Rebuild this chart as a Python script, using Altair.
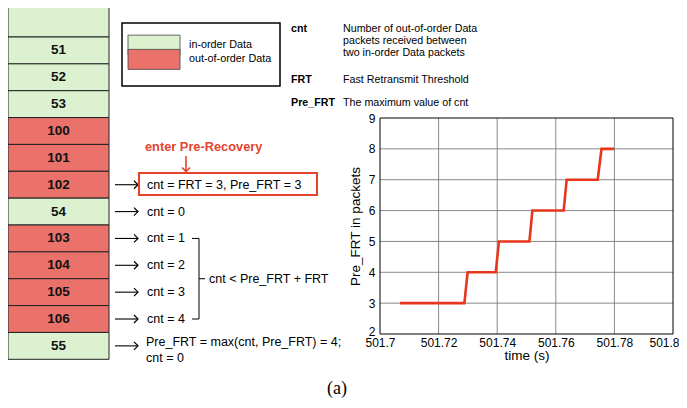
import altair as alt
import pandas as pd

# ---------------- data ----------------
packet_labels = ["", "51", "52", "53", "100", "101", "102", "54", "103", "104", "105", "106", "55"]
packet_types = ["in-order Data", "in-order Data", "in-order Data", "in-order Data",
                "out-of-order Data", "out-of-order Data", "out-of-order Data", "in-order Data",
                "out-of-order Data", "out-of-order Data", "out-of-order Data", "out-of-order Data",
                "in-order Data"]
legend_types = ["in-order Data", "out-of-order Data"]
legend_colors = ["#dbf1d0", "#ea726b"]

annot_packets = ["102", "54", "103", "104", "105", "106", "55"]
annot_texts = ["cnt = FRT = 3, Pre_FRT = 3", "cnt = 0", "cnt = 1", "cnt = 2", "cnt = 3", "cnt = 4",
               "Pre_FRT = max(cnt, Pre_FRT) = 4;\ncnt = 0"]
bracket_from, bracket_to = "103", "106"
bracket_text = "cnt < Pre_FRT + FRT"
recovery_text = "enter Pre-Recovery"

terms = ["cnt", "FRT", "Pre_FRT"]
term_desc = ["Number of out-of-order Data\npackets received between\ntwo in-order Data packets",
             "Fast Retransmit Threshold",
             "The maximum value of cnt"]

time_s = [501.7068, 501.7288, 501.7299, 501.7395, 501.7406, 501.7510, 501.7520,
          501.7627, 501.7637, 501.7743, 501.7756, 501.7799]
pre_frt = [3, 3, 4, 4, 5, 5, 6, 6, 7, 7, 8, 8]
x_ticks = [501.7, 501.72, 501.74, 501.76, 501.78, 501.8]
y_ticks = [2, 3, 4, 5, 6, 7, 8, 9]
caption = "(a)"

# ---------------- layout ----------------
W, H = 671, 392
FONT = "Liberation Sans"
RED = "#e5432c"
row_scale = alt.Scale(domain=[-0.5, 12.5], range=[2.14, 351.3], nice=False, zero=False)
xs = alt.Scale(domain=[x_ticks[0], x_ticks[-1]], range=[372, 665], nice=False, zero=False)
ys = alt.Scale(domain=[y_ticks[0], y_ticks[-1]], range=[326, 110], nice=False, zero=False)
fill_scale = alt.Scale(domain=legend_types, range=legend_colors)

packets = pd.DataFrame({"idx": list(range(len(packet_labels))), "label": packet_labels, "type": packet_types})
packets["top"] = packets["idx"] - 0.5
packets.loc[0, "top"] = -2.0
packets["bot"] = packets["idx"] + 0.5

idx_of = {lab: i for i, lab in enumerate(packet_labels) if lab}
annots = pd.DataFrame({"idx": [idx_of[p] for p in annot_packets], "text": annot_texts})
annots["multi"] = annots["text"].str.contains("\n")

layers = []

# packet column
layers.append(alt.Chart(packets).mark_rect(stroke="#222", strokeWidth=1).encode(
    x=alt.value(0), x2=alt.value(101),
    y=alt.Y("top:Q", scale=row_scale, axis=None), y2="bot:Q",
    fill=alt.Fill("type:N", scale=fill_scale, legend=None)))
layers.append(alt.Chart(packets).mark_text(font=FONT, fontSize=13.5, fontWeight="bold", color="#111").encode(
    x=alt.value(50.5), y=alt.Y("idx:Q", scale=row_scale, axis=None), text="label:N"))

# arrows to annotations
layers.append(alt.Chart(annots).mark_rule(color="black", strokeWidth=1.1).encode(
    x=alt.value(107), x2=alt.value(130), y=alt.Y("idx:Q", scale=row_scale, axis=None)))
layers.append(alt.Chart(annots).mark_point(shape="M-1,-1L0,0L-1,1", size=64, filled=False,
                                           color="black", strokeWidth=1.2, opacity=1).encode(
    x=alt.value(130), y=alt.Y("idx:Q", scale=row_scale, axis=None)))
layers.append(alt.Chart(annots[~annots["multi"]]).mark_text(
    font=FONT, fontSize=12.5, align="left", baseline="middle", color="black").encode(
    x=alt.value(139), y=alt.Y("idx:Q", scale=row_scale, axis=None), text="text:N"))
layers.append(alt.Chart(annots[annots["multi"]]).mark_text(
    font=FONT, fontSize=12.5, align="left", baseline="middle", lineBreak="\n", lineHeight=16,
    dy=-4, color="black").encode(
    x=alt.value(138), y=alt.Y("idx:Q", scale=row_scale, axis=None), text="text:N"))

# red box + recovery arrow + label
rec = pd.DataFrame({"text": [recovery_text]})
layers.append(alt.Chart(rec).mark_rect(filled=False, stroke=RED, strokeWidth=2).encode(
    x=alt.value(131), x2=alt.value(309), y=alt.value(165), y2=alt.value(187)))
layers.append(alt.Chart(rec).mark_text(font=FONT, fontSize=12.8, fontWeight="bold", color=RED,
                                       align="left", baseline="middle").encode(
    x=alt.value(137), y=alt.value(139), text="text:N"))
layers.append(alt.Chart(rec).mark_rule(color=RED, strokeWidth=1.6).encode(
    x=alt.value(178), y=alt.value(148), y2=alt.value(163)))
layers.append(alt.Chart(rec).mark_point(shape="M-1,-1L0,0L1,-1", size=64, filled=False,
                                        color=RED, strokeWidth=1.6, opacity=1).encode(
    x=alt.value(178), y=alt.value(163.5)))

# bracket
br = pd.DataFrame({"a": [idx_of[bracket_from]], "b": [idx_of[bracket_to]], "text": [bracket_text]})
br["m"] = (br["a"] + br["b"]) / 2
layers.append(alt.Chart(br).mark_rule(color="black", strokeWidth=1).encode(
    x=alt.value(191), y=alt.Y("a:Q", scale=row_scale, axis=None), y2="b:Q"))
for fld, x1, x2 in [("a", 184, 191), ("b", 184, 191), ("m", 191, 197)]:
    layers.append(alt.Chart(br).mark_rule(color="black", strokeWidth=1).encode(
        x=alt.value(x1), x2=alt.value(x2), y=alt.Y(f"{fld}:Q", scale=row_scale, axis=None)))
layers.append(alt.Chart(br).mark_text(font=FONT, fontSize=12.5, align="left", baseline="middle").encode(
    x=alt.value(201), y=alt.Y("m:Q", scale=row_scale, axis=None), text="text:N"))

# legend
leg = pd.DataFrame({"type": legend_types})
leg_y = alt.Scale(domain=legend_types, range=[30, 58.5])
layers.append(alt.Chart(leg.head(1)).mark_rect(filled=False, stroke="black", strokeWidth=1.5).encode(
    x=alt.value(114), x2=alt.value(272), y=alt.value(15), y2=alt.value(78)))
layers.append(alt.Chart(leg).mark_point(shape="M-2.6,-1H2.6V1H-2.6Z", size=400, filled=True,
                                        stroke="#444", strokeWidth=0.8, opacity=1).encode(
    x=alt.value(146), y=alt.Y("type:N", scale=leg_y, axis=None),
    fill=alt.Fill("type:N", scale=fill_scale, legend=None)))
layers.append(alt.Chart(leg).mark_text(font=FONT, fontSize=10.8, align="left", baseline="middle").encode(
    x=alt.value(181), y=alt.Y("type:N", scale=leg_y, axis=None), text="type:N"))

# definitions
term_y = [21, 72, 95]
for t, d, ty in zip(terms, term_desc, term_y):
    dd = pd.DataFrame({"t": [t], "d": [d]})
    layers.append(alt.Chart(dd).mark_text(font=FONT, fontSize=10.7, fontWeight="bold", align="left",
                                          baseline="middle").encode(
        x=alt.value(283), y=alt.value(ty), text="t:N"))
    layers.append(alt.Chart(dd).mark_text(font=FONT, fontSize=10.7, align="left", baseline="middle",
                                          lineBreak="\n", lineHeight=12).encode(
        x=alt.value(335), y=alt.value(ty), text="d:N"))

# step chart: grid, frame, line
gx = pd.DataFrame({"t": x_ticks[1:-1]})
gx["v0"], gx["v1"] = y_ticks[0], y_ticks[-1]
gy = pd.DataFrame({"v": y_ticks[1:-1]})
gy["t0"], gy["t1"] = x_ticks[0], x_ticks[-1]
frame = pd.DataFrame({"t0": [x_ticks[0]], "t1": [x_ticks[-1]], "v0": [y_ticks[0]], "v1": [y_ticks[-1]]})

layers.append(alt.Chart(gx).mark_rule(color="#7a7a7a", strokeWidth=0.9).encode(
    x=alt.X("t:Q", scale=xs, axis=None), y=alt.Y("v0:Q", scale=ys, axis=None), y2="v1:Q"))
layers.append(alt.Chart(gy).mark_rule(color="#7a7a7a", strokeWidth=0.9).encode(
    y=alt.Y("v:Q", scale=ys, axis=None), x=alt.X("t0:Q", scale=xs, axis=None), x2="t1:Q"))
layers.append(alt.Chart(frame).mark_rect(filled=False, stroke="black", strokeWidth=1).encode(
    x=alt.X("t0:Q", scale=xs, axis=None), x2="t1:Q",
    y=alt.Y("v0:Q", scale=ys, axis=None), y2="v1:Q"))

last_tick = x_ticks[-1] - 1e-6
first_y = y_ticks[0] + 1e-6
step = pd.DataFrame({"t": time_s, "v": pre_frt})
layers.append(alt.Chart(step).mark_line(color="#e6361c", strokeWidth=2.6).encode(
    x=alt.X("t:Q", scale=xs, axis=alt.Axis(
        values=x_ticks, format=".2~f", orient="bottom", offset=-66, grid=False, ticks=False,
        domain=False, labelFlush=False, labelOverlap=False, labelPadding=3,
        labelAlign={"condition": {"test": f"datum.value >= {last_tick}", "value": "right"}, "value": "center"},
        labelOffset={"condition": {"test": f"datum.value >= {last_tick}", "value": 6}, "value": 0},
        labelFont=FONT, labelFontSize=12, labelColor="black",
        title="time (s)", titleFont=FONT, titleFontSize=13.5, titleFontWeight="normal",
        titleColor="black", titlePadding=0)),
    y=alt.Y("v:Q", scale=ys, axis=alt.Axis(
        values=y_ticks, format="d", orient="left", offset=-372, grid=False, ticks=False,
        domain=False, labelFlush=False, labelOverlap=False, labelPadding=5,
        labelOffset={"condition": {"test": f"datum.value <= {first_y}", "value": -3}, "value": 0},
        labelFont=FONT, labelFontSize=12, labelColor="black",
        title="Pre_FRT in packets", titleFont=FONT, titleFontSize=13.5, titleFontWeight="normal",
        titleColor="black", titlePadding=6))))

# caption
cap = pd.DataFrame({"c": [caption]})
layers.append(alt.Chart(cap).mark_text(font="Liberation Serif", fontSize=18, align="center",
                                       baseline="middle").encode(
    x=alt.value(329), y=alt.value(381), text="c:N"))

chart = alt.layer(*layers).resolve_scale(x="independent", y="independent").properties(
    width=W, height=H, padding=0, autosize=alt.AutoSizeParams(type="none")
).configure_view(stroke=None)

chart.save("out.html", embed_options={"renderer": "svg", "actions": False})
